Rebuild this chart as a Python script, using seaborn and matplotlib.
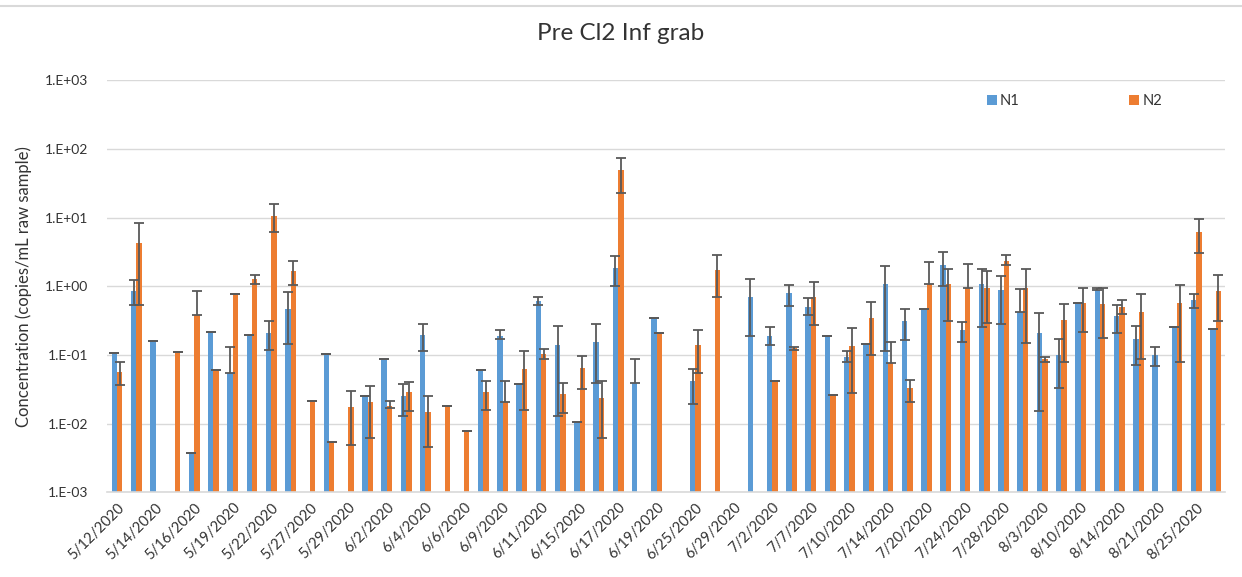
import numpy as np
import pandas as pd
import matplotlib
matplotlib.use("Agg")
import matplotlib.pyplot as plt
import seaborn as sns

# ---- data (58 sample dates, only every other one is labelled) ----
nan = np.nan
TICK_DATES = ["5/12/2020", "5/14/2020", "5/16/2020", "5/19/2020", "5/22/2020", "5/27/2020",
              "5/29/2020", "6/2/2020", "6/4/2020", "6/6/2020", "6/9/2020", "6/11/2020",
              "6/15/2020", "6/17/2020", "6/19/2020", "6/25/2020", "6/29/2020", "7/2/2020",
              "7/7/2020", "7/10/2020", "7/14/2020", "7/20/2020", "7/24/2020", "7/28/2020",
              "8/3/2020", "8/10/2020", "8/14/2020", "8/21/2020", "8/25/2020"]

N1 = [0.105, 0.865, 0.159, nan, 0.00377, 0.215, 0.055, 0.197, 0.21, 0.469,
      nan, 0.102, nan, 0.0248, 0.088, 0.0253, 0.197, nan, nan, 0.060,
      0.188, 0.0374, 0.605, 0.141, 0.0104, 0.154, 1.85, 0.0395, 0.347, nan,
      0.0418, nan, nan, 0.70, 0.188, 0.783, 0.501, 0.188, 0.093, 0.146,
      1.06, 0.31, 0.469, 2.02, 0.23, 1.06, 0.875, 0.42, 0.21, 0.0986,
      0.56, 0.875, 0.367, 0.172, 0.0986, 0.254, 0.64, 0.24]
N1_LO = [0.105, 0.54, 0.159, nan, 0.00377, 0.215, 0.055, 0.197, 0.119, 0.146,
         nan, 0.102, nan, 0.0248, 0.088, 0.013, 0.113, nan, nan, 0.060,
         0.168, 0.0374, 0.54, 0.013, 0.0104, 0.0395, 1.0, 0.0395, 0.347, nan,
         0.0192, nan, nan, 0.188, 0.139, 0.513, 0.375, 0.188, 0.079, 0.146,
         0.114, 0.163, 0.469, 1.0, 0.154, 0.254, 0.278, 0.42, 0.015, 0.0334,
         0.56, 0.875, 0.206, 0.0713, 0.069, 0.254, 0.485, 0.24]
N1_HI = [0.105, 1.22, 0.159, nan, 0.00377, 0.215, 0.132, 0.197, 0.307, 0.81,
         nan, 0.102, nan, 0.0248, 0.088, 0.0374, 0.278, nan, nan, 0.060,
         0.227, 0.0374, 0.69, 0.263, 0.0104, 0.278, 2.72, 0.088, 0.347, nan,
         0.0617, nan, nan, 1.28, 0.254, 1.03, 0.662, 0.188, 0.114, 0.146,
         2.0, 0.469, 0.469, 3.15, 0.303, 1.80, 1.40, 0.895, 0.401, 0.168,
         0.56, 0.946, 0.54, 0.263, 0.132, 0.254, 0.757, 0.24]

N2 = [0.056, 4.26, nan, 0.111, 0.375, 0.060, 0.765, 1.29, 10.7, 1.67,
      0.021, 0.00544, 0.0175, 0.0207, 0.018, 0.0283, 0.0145, 0.018, 0.0077, 0.0292,
      0.0203, 0.063, 0.102, 0.0268, 0.065, 0.0239, 49.3, nan, 0.206, nan,
      0.139, 1.71, nan, nan, 0.041, 0.124, 0.70, 0.0259, 0.135, 0.347,
      0.0755, 0.0324, 1.09, 1.06, 0.946, 0.946, 2.36, 0.946, 0.086, 0.318,
      0.573, 0.554, 0.496, 0.42, nan, 0.573, 6.15, 0.865]
N2_LO = [0.037, 0.54, nan, 0.111, 0.375, 0.060, 0.765, 1.09, 6.08, 1.03,
         0.021, 0.00544, 0.0049, 0.0061, 0.0166, 0.015, 0.0045, 0.018, 0.0077, 0.0159,
         0.0203, 0.0159, 0.088, 0.0142, 0.0316, 0.0061, 22.6, nan, 0.206, nan,
         0.055, 0.69, nan, nan, 0.041, 0.118, 0.269, 0.0259, 0.0274, 0.0986,
         0.0755, 0.0203, 1.09, 0.31, 0.946, 0.294, 2.02, 0.151, 0.079, 0.079,
         0.217, 0.178, 0.398, 0.088, nan, 0.079, 3.05, 0.31]
N2_HI = [0.079, 8.3, nan, 0.111, 0.855, 0.060, 0.765, 1.48, 15.8, 2.33,
         0.021, 0.00544, 0.030, 0.0354, 0.0212, 0.0409, 0.0248, 0.018, 0.0077, 0.041,
         0.041, 0.113, 0.123, 0.0387, 0.096, 0.041, 72.9, nan, 0.206, nan,
         0.23, 2.88, nan, nan, 0.041, 0.132, 1.16, 0.0259, 0.243, 0.593,
         0.154, 0.0432, 2.25, 1.80, 2.13, 1.65, 2.88, 1.80, 0.093, 0.542,
         0.946, 0.946, 0.627, 0.757, nan, 1.03, 9.6, 1.48]

SERIES = ["N1", "N2"]
COLORS = {"N1": "#5B9BD5", "N2": "#ED7D31"}
BAR_WIDTH = 0.56

plt.rcParams["font.family"] = ["Lato", "DejaVu Sans"]


def build_frame():
    n = len(N1)
    rows = []
    for name, vals, lo, hi in [("N1", N1, N1_LO, N1_HI), ("N2", N2, N2_LO, N2_HI)]:
        for i in range(n):
            rows.append({"idx": i, "series": name, "value": vals[i], "lo": lo[i], "hi": hi[i]})
    return pd.DataFrame(rows)


def main():
    df = build_frame()
    n = len(N1)

    fig = plt.figure(figsize=(12.42, 5.77), dpi=100)
    ax = fig.add_axes([0.0865, 0.147, 0.9, 0.714])

    data = df.dropna(subset=["value"])
    sns.barplot(data=data, x="idx", y="value", hue="series", order=list(range(n)),
                hue_order=SERIES, palette=COLORS, width=BAR_WIDTH, errorbar=None,
                saturation=1, ax=ax, zorder=2)
    ax.set_yscale("log")
    ax.set_ylim(1e-3, 1e3)
    ax.set_xlim(-0.5, n - 0.5)

    # error bars (custom low / high bounds)
    step = BAR_WIDTH / len(SERIES)
    for k, name in enumerate(SERIES):
        sub = data[data["series"] == name]
        xpos = sub["idx"].to_numpy() + (k - 0.5) * step
        yerr = np.vstack([sub["value"] - sub["lo"], sub["hi"] - sub["value"]])
        ax.errorbar(xpos, sub["value"], yerr=yerr, fmt="none", ecolor="#595959",
                    elinewidth=1.3, capsize=3.8, capthick=1.3, zorder=3)

    # axes styling
    ax.grid(axis="y", color="#d9d9d9", linewidth=1, zorder=0)
    ax.set_axisbelow(True)
    for side in ["top", "right", "left"]:
        ax.spines[side].set_visible(False)
    ax.spines["bottom"].set_color("#d9d9d9")
    ax.spines["bottom"].set_linewidth(1.2)
    ax.tick_params(axis="both", length=0, colors="#333333", labelsize=10)

    ax.set_yticks([10.0 ** p for p in range(-3, 4)])
    ax.set_yticklabels([f"1.E{p:+03d}" for p in range(-3, 4)])
    ax.minorticks_off()
    ax.tick_params(axis="y", pad=14)

    ax.set_xticks(list(range(0, n, 2)))
    ax.set_xticklabels(TICK_DATES, rotation=45, ha="right", rotation_mode="anchor", fontsize=10.5)
    ax.tick_params(axis="x", pad=6)

    ax.set_xlabel("")
    ax.set_ylabel("Concentration (copies/mL raw sample)", fontsize=12, color="#333333", labelpad=9)
    fig.suptitle("Pre Cl2 Inf grab", fontsize=17.5, color="#333333", y=0.96)

    ax.legend(loc="center left", bbox_to_anchor=(0.775, 0.95), ncol=2, frameon=False,
              handlelength=0.7, handleheight=0.7, handletextpad=0.2, columnspacing=7.5,
              fontsize=10.5, labelcolor="#333333")

    fig.add_artist(plt.Line2D([0, 1], [0.99, 0.99], color="#d9d9d9", linewidth=1.5))

    fig.savefig("out.png", dpi=100)
    plt.close(fig)


if __name__ == "__main__":
    main()
